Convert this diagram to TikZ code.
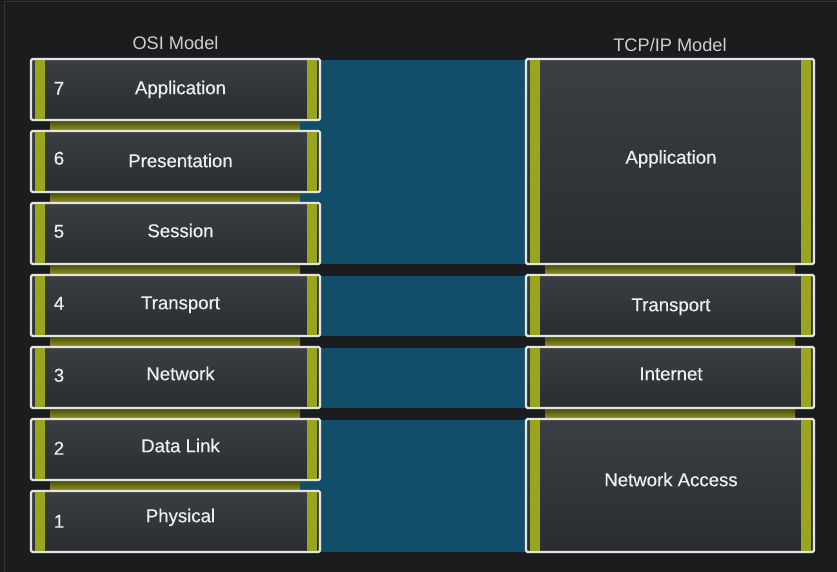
\documentclass[tikz,border=0pt]{standalone}
\usepackage{fontspec}
\setmainfont{Liberation Sans}
\newfontfamily\labfont{Liberation Sans}[FakeBold=0.45]
\usetikzlibrary{calc}
\definecolor{bgc}{HTML}{1B1C1E}
\definecolor{framec}{HTML}{34363A}
\definecolor{tealc}{HTML}{124E69}
\definecolor{olivetop}{HTML}{4A4E10}
\definecolor{olivebot}{HTML}{8C931C}
\definecolor{barc}{HTML}{9BA41F}
\definecolor{edgec}{HTML}{E6E4DE}
\definecolor{boxtop}{HTML}{3B3E42}
\definecolor{boxbot}{HTML}{2A2D30}
\definecolor{labc}{HTML}{EEEEEE}
\definecolor{titc}{HTML}{CDCECE}
\begin{document}
\begin{tikzpicture}[x=1pt,y=-1pt,
  layerbox/.style={draw=edgec, line width=2.4pt, rounded corners=1.5pt,
    top color=boxtop, bottom color=boxbot, inner sep=0pt, outer sep=0pt},
  osibox/.style={layerbox, minimum width=289pt, minimum height=#1},
  tcpbox/.style={layerbox, minimum width=288pt, minimum height=#1},
  lab/.style={text=labc, font=\labfont\fontsize{18.6}{22}\selectfont, inner sep=0pt,
    text height=13.4pt, text depth=0pt},
  title/.style={text=titc, font=\fontsize{18.2}{21}\selectfont, inner sep=0pt,
    text height=13pt, text depth=0pt},
  bar/.style={fill=barc},
  strip/.style={top color=olivetop, bottom color=olivebot}
]
\useasboundingbox (0,0) rectangle (837,572);
\fill[bgc] (0,0) rectangle (837,572);
\draw[framec, line width=1.2pt] (4.5,575) -- (4.5,1.2) -- (840,1.2);

% teal background bands
\fill[tealc] (300,60) rectangle (527,264);
\fill[tealc] (300,276) rectangle (527,336);
\fill[tealc] (300,348) rectangle (527,408);
\fill[tealc] (300,420) rectangle (527,552);

% olive strips between layers
\foreach \a/\b in {121/130,193/202,265/274,337/346,409/418,481/490}
  \shade[strip] (50,\a) rectangle (300,\b);
\foreach \a/\b in {265/274,337/346,409/418}
  \shade[strip] (545,\a) rectangle (795,\b);

% titles
\node[title] (osititle) at (175.5,43) {OSI Model};
\node[title] (tcptitle) at (670,45) {TCP/IP Model};

% OSI layers
\foreach \n/\y/\lab/\ly/\ny in {7/89.5/Application/87.5/88,
                                6/161.5/Presentation/160.5/158,
                                5/233.5/Session/230.5/231,
                                4/305.5/Transport/302.5/303,
                                3/377.5/Network/373.5/375,
                                2/449.5/Data Link/445.5/448,
                                1/521.5/Physical/515.5/521}{
  \node[osibox=61pt] (o\n) at (175.5,\y) {};
  \fill[bar] ($(o\n.north west)+(4,1.2)$) rectangle ($(o\n.south west)+(13.5,-1.2)$);
  \fill[bar] ($(o\n.north east)+(-13.5,1.2)$) rectangle ($(o\n.south east)+(-3.5,-1.2)$);
  \node[lab] (ol\n) at (180.5,\ly) {\lab};
  \node[lab] (on\n) at (59,\ny) {\n};
}

% TCP/IP layers
\foreach \n/\y/\h/\lab/\ly in {a/161.5/205/Application/157,
                               t/305.5/61/Transport/304.5,
                               i/377.5/61/Internet/373.5,
                               n/485.5/133/Network Access/479.5}{
  \node[tcpbox=\h pt] (t\n) at (670,\y) {};
  \fill[bar] ($(t\n.north west)+(4,1.2)$) rectangle ($(t\n.south west)+(13.5,-1.2)$);
  \fill[bar] ($(t\n.north east)+(-13.5,1.2)$) rectangle ($(t\n.south east)+(-3.5,-1.2)$);
  \node[lab] (tl\n) at (671,\ly) {\lab};
}
\end{tikzpicture}
\end{document}
